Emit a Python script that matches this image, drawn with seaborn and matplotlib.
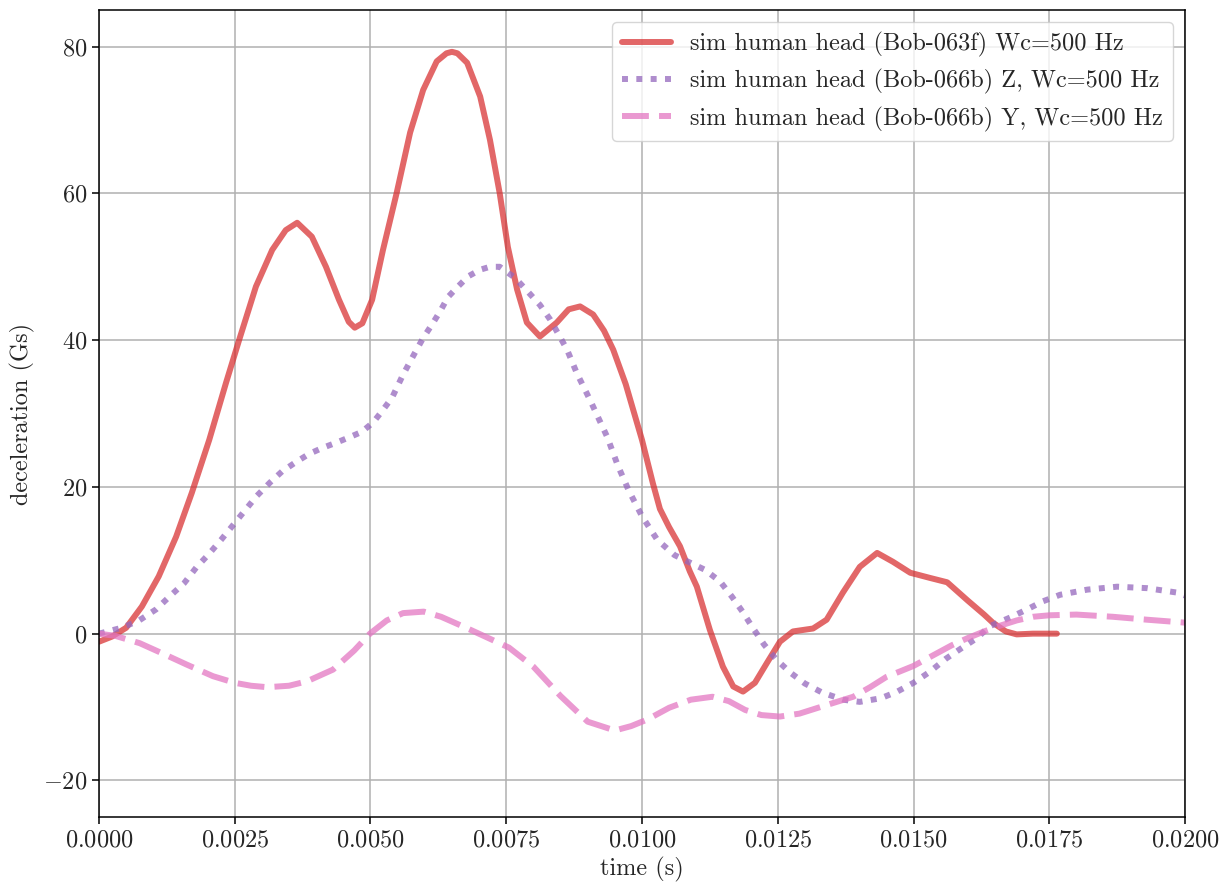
import numpy as np
import pandas as pd
import matplotlib
matplotlib.use("Agg")
import matplotlib.pyplot as plt
import seaborn as sns

# ---- data ----
t_red = [0.0, 0.00024, 0.0005, 0.00079, 0.0011, 0.00142, 0.00171, 0.00203, 0.00234, 0.00258,
         0.00289, 0.00319, 0.00344, 0.00365, 0.00392, 0.00418, 0.00442, 0.0046, 0.00471, 0.00485,
         0.00503, 0.00523, 0.00548, 0.00573, 0.00597, 0.00622, 0.0064, 0.0065, 0.0066, 0.00678,
         0.00702, 0.0072, 0.00738, 0.00753, 0.0077, 0.00788, 0.00812, 0.00843, 0.00865, 0.00886,
         0.0091, 0.0093, 0.00947, 0.0097, 0.0100, 0.0102, 0.01033, 0.0105, 0.0107, 0.01088,
         0.01101, 0.01125, 0.01149, 0.01168, 0.01186, 0.01208, 0.0123, 0.01254, 0.01278, 0.01315,
         0.0134, 0.0137, 0.01401, 0.01433, 0.01462, 0.01494, 0.0153, 0.01562, 0.0160, 0.0163,
         0.01646, 0.0167, 0.0169, 0.0172, 0.01764]
a_red = [-1.1, -0.4, 0.8, 3.7, 7.8, 13.2, 19.2, 26.4, 34.2, 40.0,
         47.3, 52.3, 55.0, 56.0, 54.1, 50.0, 45.5, 42.5, 41.7, 42.3,
         45.5, 52.3, 60.0, 68.3, 74.1, 78.0, 79.1, 79.3, 79.1, 77.8,
         73.2, 67.3, 60.0, 52.7, 46.9, 42.4, 40.5, 42.4, 44.2, 44.6,
         43.5, 41.3, 38.7, 34.0, 26.4, 20.5, 17.0, 14.5, 11.9, 8.5,
         6.4, 0.5, -4.5, -7.2, -7.9, -6.7, -4.0, -1.1, 0.3, 0.7,
         1.9, 5.6, 9.1, 11.0, 9.8, 8.3, 7.6, 7.0, 4.5, 2.6,
         1.5, 0.3, -0.1, 0.0, 0.0]

t_z = [0.0, 0.00042, 0.00074, 0.00105, 0.00129, 0.00157, 0.00179, 0.00203, 0.00225, 0.00247,
       0.0027, 0.00291, 0.00315, 0.00337, 0.00363, 0.00387, 0.00411, 0.00436, 0.00459, 0.00484,
       0.00505, 0.0052, 0.0054, 0.0056, 0.00582, 0.00597, 0.00613, 0.00628, 0.00643, 0.00661,
       0.0068, 0.00702, 0.0072, 0.00738, 0.00766, 0.0079, 0.00812, 0.00831, 0.0085, 0.00862,
       0.0088, 0.00904, 0.00936, 0.00955, 0.00975, 0.0100, 0.01028, 0.0106, 0.01085, 0.01116,
       0.01144, 0.01166, 0.01186, 0.01204, 0.01225, 0.01247, 0.01273, 0.0130, 0.01331, 0.0137,
       0.01401, 0.0144, 0.0147, 0.0150, 0.0153, 0.0156, 0.01586, 0.01617, 0.0164, 0.01678,
       0.01709, 0.01738, 0.0177, 0.0182, 0.01875, 0.0193, 0.01985, 0.0200]
a_z = [0.0, 0.8, 1.8, 3.3, 5.0, 6.9, 9.0, 10.9, 12.8, 14.8,
       16.9, 18.8, 20.6, 22.1, 23.4, 24.5, 25.3, 26.0, 26.7, 27.5,
       28.8, 30.2, 32.2, 35.3, 38.3, 40.3, 42.1, 43.9, 45.9, 47.3,
       48.7, 49.6, 50.0, 50.0, 48.5, 46.6, 44.8, 42.8, 40.3, 38.7,
       35.5, 31.9, 26.8, 23.0, 19.6, 16.0, 12.8, 10.7, 9.8, 8.7,
       7.1, 5.0, 2.9, 0.8, -1.5, -3.5, -5.3, -6.8, -8.0, -9.0,
       -9.3, -8.8, -7.9, -6.7, -5.2, -3.4, -2.1, -0.6, 1.0, 2.2,
       3.3, 4.4, 5.3, 6.0, 6.4, 6.2, 5.6, 5.2]

t_y = [0.0, 0.0003, 0.00075, 0.0012, 0.00161, 0.0021, 0.0025, 0.0028, 0.0031, 0.0035,
       0.00383, 0.00431, 0.0047, 0.00499, 0.0053, 0.0056, 0.00598, 0.0063, 0.00676, 0.0072,
       0.00755, 0.0080, 0.0085, 0.0090, 0.0095, 0.0098, 0.0101, 0.0105, 0.0109, 0.0113,
       0.0116, 0.0119, 0.0122, 0.01254, 0.0129, 0.0132, 0.0135, 0.01389, 0.0142, 0.0145,
       0.0148, 0.0150, 0.0153, 0.0157, 0.0160, 0.0163, 0.0166, 0.0169, 0.0172, 0.0175,
       0.0180, 0.01867, 0.0193, 0.0200]
a_y = [0.0, -0.3, -1.3, -2.8, -4.2, -5.8, -6.7, -7.1, -7.3, -7.1,
       -6.5, -4.9, -2.3, 0.0, 1.8, 2.8, 3.0, 2.3, 0.8, -0.7,
       -1.9, -4.5, -8.5, -12.0, -13.2, -12.6, -11.7, -10.1, -9.0, -8.6,
       -9.2, -10.4, -11.1, -11.3, -10.9, -10.2, -9.5, -8.6, -7.3, -5.9,
       -5.0, -4.4, -3.2, -1.6, -0.6, 0.3, 1.1, 1.8, 2.3, 2.5,
       2.6, 2.3, 1.9, 1.5]

labels = ["sim human head (Bob-063f) Wc=500 Hz",
          "sim human head (Bob-066b) Z, Wc=500 Hz",
          "sim human head (Bob-066b) Y, Wc=500 Hz"]

sns.set_style("ticks")
plt.rcParams['font.family'] = ['cmr10', 'DejaVu Serif']
plt.rcParams['mathtext.fontset'] = 'cm'
plt.rcParams['axes.formatter.use_mathtext'] = True
FS = 17.5
plt.rcParams['font.size'] = FS

fig = plt.figure(figsize=(12.28, 8.92), dpi=100)
ax = fig.add_axes([0.0806, 0.084, 0.8844, 0.9048])

lw = 4.3
sns.lineplot(x=t_red, y=a_red, ax=ax, color='tab:red', alpha=0.7, lw=lw,
             label=labels[0], estimator=None, sort=False)
sns.lineplot(x=t_z, y=a_z, ax=ax, color='tab:purple', alpha=0.75, lw=lw,
             label=labels[1], estimator=None, sort=False)
sns.lineplot(x=t_y, y=a_y, ax=ax, color='tab:pink', alpha=0.75, lw=lw,
             label=labels[2], estimator=None, sort=False)
ax.lines[1].set_linestyle((0, (1.0, 1.4)))
ax.lines[2].set_linestyle((0, (4.5, 1.7)))
for ln in ax.lines[:3]:
    ln.set_solid_joinstyle('round')
    ln.set_dash_joinstyle('round')

ax.set_xlim(0, 0.02)
ax.set_ylim(-25, 85)
ax.set_xticks(np.arange(0, 0.02001, 0.0025))
ax.set_yticks([-20, 0, 20, 40, 60, 80])
ax.xaxis.set_major_formatter(matplotlib.ticker.FormatStrFormatter(r'$\mathdefault{%.4f}$'))
ax.grid(True, color='#b0b0b0', lw=1.1)
for s in ax.spines.values():
    s.set_linewidth(1.1)
    s.set_color('black')
ax.tick_params(direction='out', length=5, width=1.1, labelsize=FS, color='black')
ax.set_xlabel("time (s)", fontsize=FS, labelpad=4)
ax.set_ylabel("deceleration (Gs)", fontsize=FS, labelpad=6)

leg = ax.legend(loc='upper right', fontsize=FS, framealpha=0.8, edgecolor='#cccccc',
                fancybox=True, handlelength=2.0)

fig.savefig("out.png", dpi=100)
